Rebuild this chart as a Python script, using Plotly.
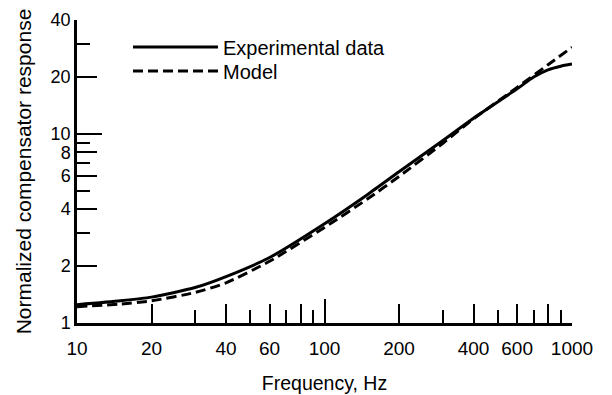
import math
import plotly.graph_objects as go

# ---- data ----
freq_exp = [10, 15, 20, 30, 40, 60, 100, 150, 200, 300, 400, 600, 700, 800, 900, 1000]
resp_exp = [1.25, 1.31, 1.37, 1.54, 1.76, 2.22, 3.35, 4.8, 6.3, 9.2, 12.1, 17.3, 20.0, 21.8, 22.8, 23.4]

freq_model = [10, 15, 20, 30, 40, 60, 100, 150, 200, 300, 400, 600, 800, 1000]
resp_model = [1.22, 1.26, 1.31, 1.45, 1.63, 2.12, 3.2, 4.55, 5.95, 8.9, 12.0, 17.6, 23.2, 28.7]

x_label_vals = [10, 20, 40, 60, 80, 100, 200, 400, 600, 800, 1000]
x_label_text = ["10", "20", "40", "60", "", "100", "200", "400", "600", "", "1000"]
x_minor_vals = [30, 50, 70, 90, 300, 500, 700, 900]
x_long_vals = [100, 1000]

y_label_vals = [1, 2, 4, 6, 8, 10, 20, 40]
y_label_text = ["1", "2", "4", "6", "8", "10", "20", "40"]
y_minor_vals = [3, 5, 7, 9, 30]
y_long_vals = [10]

xr = [math.log10(10), math.log10(1000)]
yr = [math.log10(1), math.log10(40)]

FONT = "Liberation Sans, Arial, Helvetica, sans-serif"

fig = go.Figure()
fig.add_trace(go.Scatter(
    x=freq_exp, y=resp_exp, mode="lines", name="Experimental data",
    line=dict(color="black", width=3, shape="spline", smoothing=0.6),
    hoverinfo="skip", legend="legend",
))
fig.add_trace(go.Scatter(
    x=freq_model, y=resp_model, mode="lines", name="Model",
    line=dict(color="black", width=3, dash="10px,5px", shape="spline", smoothing=0.6),
    xaxis="x2", yaxis="y2", hoverinfo="skip", legend="legend2",
))

axis_common = dict(
    type="log", showgrid=False, zeroline=False, ticks="inside",
    tickcolor="black", tickwidth=2, automargin=False,
)

legend_common = dict(
    xanchor="left", yanchor="middle", bgcolor="rgba(0,0,0,0)",
    font=dict(size=20), itemwidth=85, tracegroupgap=0,
)

fig.update_layout(
    width=612, height=395,
    margin=dict(l=77, r=40, t=20, b=72, autoexpand=False),
    paper_bgcolor="white", plot_bgcolor="white",
    font=dict(family=FONT, color="black", size=18),
    xaxis=dict(
        **axis_common, range=xr, tickmode="array",
        tickvals=x_label_vals, ticktext=x_label_text, ticklen=19,
        minor=dict(tickmode="array", tickvals=x_minor_vals, ticklen=13,
                   ticks="inside", tickwidth=2, tickcolor="black", showgrid=False),
        showline=True, linecolor="black", linewidth=2.5,
        tickfont=dict(size=19), ticklabelstandoff=6,
        title=dict(text="Frequency, Hz", font=dict(size=19.5), standoff=19),
    ),
    yaxis=dict(
        **axis_common, range=yr, tickmode="array",
        tickvals=y_label_vals, ticktext=y_label_text, ticklen=20,
        minor=dict(tickmode="array", tickvals=y_minor_vals, ticklen=13,
                   ticks="inside", tickwidth=2, tickcolor="black", showgrid=False),
        showline=True, linecolor="black", linewidth=2.5,
        tickfont=dict(size=18),
        title=dict(text="Normalized compensator response", font=dict(size=21), standoff=14),
    ),
    xaxis2=dict(
        **axis_common, range=xr, overlaying="x", anchor="y2", side="bottom",
        tickmode="array", tickvals=x_long_vals, ticklen=24,
        showticklabels=False, showline=False,
    ),
    yaxis2=dict(
        **axis_common, range=yr, overlaying="y", anchor="x2", side="left",
        tickmode="array", tickvals=y_long_vals, ticklen=25,
        showticklabels=False, showline=False,
    ),
    showlegend=True,
    legend=dict(**legend_common, x=0.103, y=(323 - 47) / 303),
    legend2=dict(**legend_common, x=0.103, y=(323 - 71) / 303),
)

fig.write_html("out.html")
